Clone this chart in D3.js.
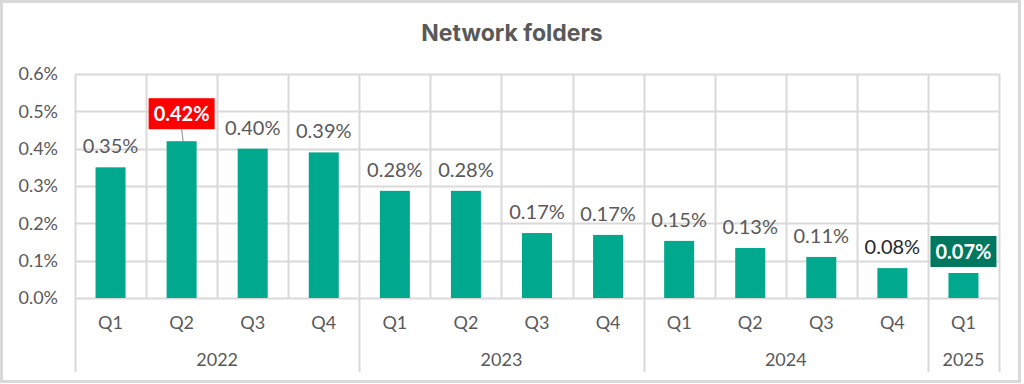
<!DOCTYPE html>
<html>
<head>
<meta charset="utf-8">
<script src="https://cdn.jsdelivr.net/npm/d3@7"></script>
<style>
  html, body { margin: 0; padding: 0; background: #fff; }
  svg { display: block; }
</style>
</head>
<body>
<div id="chart"></div>
<script>
// data
const years = ["2022", "2023", "2024", "2025"];
const quarters = ["Q1", "Q2", "Q3", "Q4", "Q1", "Q2", "Q3", "Q4", "Q1", "Q2", "Q3", "Q4", "Q1"];
const yearOf = ["2022", "2022", "2022", "2022", "2023", "2023", "2023", "2023", "2024", "2024", "2024", "2024", "2025"];
const values = [0.35, 0.42, 0.40, 0.39, 0.287, 0.287, 0.174, 0.169, 0.153, 0.134, 0.110, 0.080, 0.067];
const labels = ["0.35%", "0.42%", "0.40%", "0.39%", "0.28%", "0.28%", "0.17%", "0.17%", "0.15%", "0.13%", "0.11%", "0.08%", "0.07%"];
const yTicks = [0, 0.1, 0.2, 0.3, 0.4, 0.5, 0.6];
const highlights = { 1: "#ff0000", 12: "#00785f" }; // boxed labels

const W = 1024, H = 384;
const plotLeft = 75, plotRight = 999, plotTop = 74, base = 298, bottomLine = 372;

const svg = d3.select("#chart").append("svg")
  .attr("width", W).attr("height", H);

// outer frame
svg.append("rect")
  .attr("x", 1.5).attr("y", 1.5)
  .attr("width", W - 6).attr("height", H - 4)
  .attr("fill", "#fff").attr("stroke", "#d9d9d9").attr("stroke-width", 3);

const x = d3.scaleBand()
  .domain(d3.range(values.length))
  .range([plotLeft, plotRight])
  .paddingInner(0).paddingOuter(0);

const y = d3.scaleLinear().domain([0, 0.6]).range([base, plotTop]);

const grid = "#d9d9d9";
const textCol = "#595959";

// horizontal grid
svg.append("g").selectAll("line")
  .data(yTicks)
  .join("line")
  .attr("x1", plotLeft).attr("x2", plotRight)
  .attr("y1", d => Math.round(y(d)) + 0.5)
  .attr("y2", d => Math.round(y(d)) + 0.5)
  .attr("stroke", grid).attr("stroke-width", 2);

// vertical grid, year boundaries go down through the axis area
const bounds = d3.range(values.length + 1);
const yearStarts = [0];
yearOf.forEach((yr, i) => { if (i > 0 && yr != yearOf[i - 1]) yearStarts.push(i); });
yearStarts.push(values.length);

svg.append("g").selectAll("line")
  .data(bounds)
  .join("line")
  .attr("x1", i => Math.round(plotLeft + i * x.step()) + 0.5)
  .attr("x2", i => Math.round(plotLeft + i * x.step()) + 0.5)
  .attr("y1", plotTop)
  .attr("y2", i => yearStarts.includes(i) ? bottomLine : base)
  .attr("stroke", grid).attr("stroke-width", 2);

// y axis labels
svg.append("g").selectAll("text")
  .data(yTicks)
  .join("text")
  .attr("x", 58)
  .attr("y", d => y(d))
  .attr("dy", "0.35em")
  .attr("text-anchor", "end")
  .attr("font-family", "Lato, sans-serif")
  .attr("font-size", 18)
  .attr("fill", textCol)
  .text(d => d.toFixed(1) + "%");

// bars
const bw = 30;
svg.append("g").selectAll("rect")
  .data(values)
  .join("rect")
  .attr("x", (d, i) => x(i) + x.bandwidth() / 2 - bw / 2)
  .attr("y", d => y(d))
  .attr("width", bw)
  .attr("height", d => base - y(d))
  .attr("fill", "#00a88e");

// quarter labels
svg.append("g").selectAll("text")
  .data(quarters)
  .join("text")
  .attr("x", (d, i) => x(i) + x.bandwidth() / 2)
  .attr("y", 323)
  .attr("dy", "0.35em")
  .attr("text-anchor", "middle")
  .attr("font-family", "Lato, sans-serif")
  .attr("font-size", 18)
  .attr("fill", textCol)
  .text(d => d);

// year labels
svg.append("g").selectAll("text")
  .data(years)
  .join("text")
  .attr("x", (d, k) => (x(yearStarts[k]) + plotLeft + yearStarts[k + 1] * x.step()) / 2)
  .attr("y", 360)
  .attr("dy", "0.35em")
  .attr("text-anchor", "middle")
  .attr("font-family", "Lato, sans-serif")
  .attr("font-size", 18)
  .attr("fill", textCol)
  .text(d => d);

// data labels
const lab = svg.append("g");
values.forEach((v, i) => {
  const cx = x(i) + x.bandwidth() / 2;
  if (highlights[i]) {
    const boxH = 31, boxW = 66;
    const boxBottom = i == 1 ? y(v) - 12 : y(v) - 6;
    if (i == 1) {
      lab.append("line")
        .attr("x1", cx).attr("x2", cx + 1.5)
        .attr("y1", boxBottom).attr("y2", y(v))
        .attr("stroke", "#8c8c8c").attr("stroke-width", 1);
    }
    lab.append("rect")
      .attr("x", cx - boxW / 2).attr("y", boxBottom - boxH)
      .attr("width", boxW).attr("height", boxH)
      .attr("fill", highlights[i]);
    lab.append("text")
      .attr("x", cx).attr("y", boxBottom - boxH / 2)
      .attr("dy", "0.36em")
      .attr("text-anchor", "middle")
      .attr("font-family", "Lato, sans-serif")
      .attr("font-weight", "bold")
      .attr("font-size", 20)
      .attr("fill", "#fff")
      .text(labels[i]);
  } else {
    lab.append("text")
      .attr("x", cx).attr("y", y(v) - 14)
      .attr("text-anchor", "middle")
      .attr("font-family", "Lato, sans-serif")
      .attr("font-size", 20)
      .attr("fill", i == 11 ? "#262626" : textCol)
      .text(labels[i]);
  }
});

// title
svg.append("text")
  .attr("x", 512).attr("y", 33)
  .attr("dy", "0.35em")
  .attr("text-anchor", "middle")
  .attr("font-family", "Inter, sans-serif")
  .attr("font-weight", "bold")
  .attr("font-size", 23)
  .attr("fill", textCol)
  .text("Network folders");
</script>
</body>
</html>
